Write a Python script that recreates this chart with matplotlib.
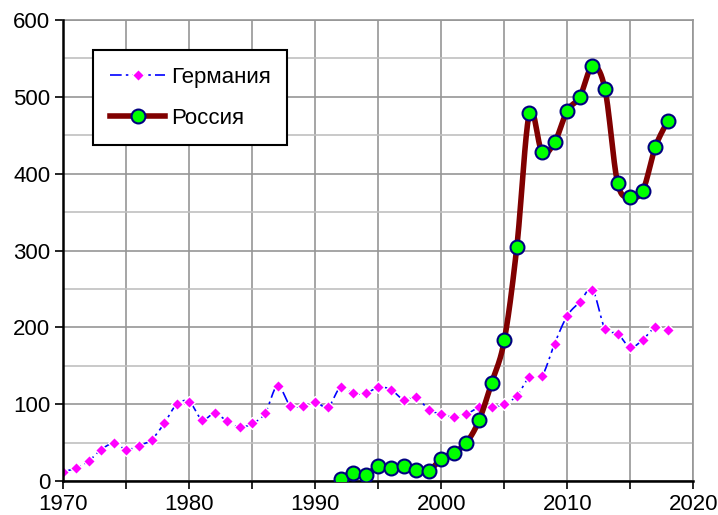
import numpy as np
import matplotlib
matplotlib.use("Agg")
import matplotlib.pyplot as plt
from matplotlib.ticker import MultipleLocator
from matplotlib.lines import Line2D

plt.rcParams['font.family'] = ['Liberation Sans', 'DejaVu Sans']

germany_years = list(range(1970, 2019))
germany_values = [12, 17, 26, 41, 49, 41, 46, 54, 75, 100, 103, 80, 88, 78, 70, 75, 88, 124,
                  98, 98, 103, 96, 122, 114, 114, 122, 119, 106, 109, 93, 87, 83, 87, 96, 96,
                  100, 111, 135, 137, 179, 215, 233, 249, 198, 192, 174, 184, 200, 197]
russia_years = list(range(1992, 2019))
russia_values = [3, 11, 8, 19, 17, 19, 14, 13, 29, 37, 50, 79, 128, 183, 305, 479, 428, 441,
                 482, 500, 540, 510, 388, 370, 378, 435, 469]
labels = ["Германия", "Россия"]


def smooth(x, y, n=20):
    # Excel-style smoothed line (Catmull-Rom Bezier) through the data points
    x = np.asarray(x, float); y = np.asarray(y, float)
    px = np.concatenate([[x[0]], x, [x[-1]]])
    py = np.concatenate([[y[0]], y, [y[-1]]])
    xs, ys = [], []
    t = np.linspace(0, 1, n)
    for i in range(1, len(px) - 2):
        p0 = np.array([px[i], py[i]]); p3 = np.array([px[i + 1], py[i + 1]])
        c1 = p0 + (np.array([px[i + 1], py[i + 1]]) - np.array([px[i - 1], py[i - 1]])) / 6
        c2 = p3 - (np.array([px[i + 2], py[i + 2]]) - np.array([px[i], py[i]])) / 6
        b = ((1 - t) ** 3)[:, None] * p0 + (3 * (1 - t) ** 2 * t)[:, None] * c1 + \
            (3 * (1 - t) * t ** 2)[:, None] * c2 + (t ** 3)[:, None] * p3
        xs.extend(b[:, 0]); ys.extend(b[:, 1])
    return np.array(xs), np.array(ys)


fig = plt.figure(figsize=(7.18, 5.15), dpi=100)
ax = fig.add_axes([0.0884, 0.066, 0.877, 0.895])

ax.set_xlim(1970, 2020)
ax.set_ylim(0, 600)
ax.xaxis.set_major_locator(MultipleLocator(10))
ax.xaxis.set_minor_locator(MultipleLocator(5))
ax.yaxis.set_major_locator(MultipleLocator(100))
ax.yaxis.set_minor_locator(MultipleLocator(50))

ax.grid(which='major', axis='both', color='#969696', lw=1.2, zorder=0)
ax.grid(which='minor', axis='x', color='#969696', lw=1.2, zorder=0)
ax.grid(which='minor', axis='y', color='#c0c0c0', lw=1.2, zorder=0)
ax.tick_params(which='both', direction='out', length=6, width=1.2, labelsize=16, colors='black')
ax.tick_params(which='minor', axis='y', length=0)
ax.set_axisbelow(True)

for s in ['top', 'right']:
    ax.spines[s].set_color('#969696')
    ax.spines[s].set_linewidth(1.2)
for s in ['left', 'bottom']:
    ax.spines[s].set_color('black')
    ax.spines[s].set_linewidth(1.8)
    ax.spines[s].set_zorder(5)

gx, gy = smooth(germany_years, germany_values)
ax.plot(gx, gy, color='#0000ff', lw=1.2, ls=(0, (7, 2.5, 1.5, 2.5)), zorder=3)
ax.plot(germany_years, germany_values, ls='none', marker='D', ms=6.5, mfc='#ff00ff',
        mec='white', mew=1.0, zorder=4)

rx, ry = smooth(russia_years, russia_values)
ax.plot(rx, ry, color='#800000', lw=4, solid_capstyle='round', zorder=5)
ax.plot(russia_years, russia_values, ls='none', marker='o', ms=10, mfc='#00ff00',
        mec='#000080', mew=1.5, zorder=6)

h1 = Line2D([], [], color='#0000ff', lw=1.2, ls=(0, (7, 2.5, 1.5, 2.5)), marker='D', ms=6.5,
            mfc='#ff00ff', mec='white', mew=1.0)
h2 = Line2D([], [], color='#800000', lw=4, marker='o', ms=10, mfc='#00ff00', mec='#000080', mew=1.5)
leg = ax.legend([h1, h2], labels, loc='upper left', bbox_to_anchor=(0.047, 0.935),
                frameon=True, fancybox=False, edgecolor='black', framealpha=1,
                fontsize=16, handlelength=2.5, handletextpad=0.25, borderpad=0.75,
                labelspacing=0.9, borderaxespad=0)
leg.get_frame().set_linewidth(1.5)

fig.savefig('out.png', dpi=100)
